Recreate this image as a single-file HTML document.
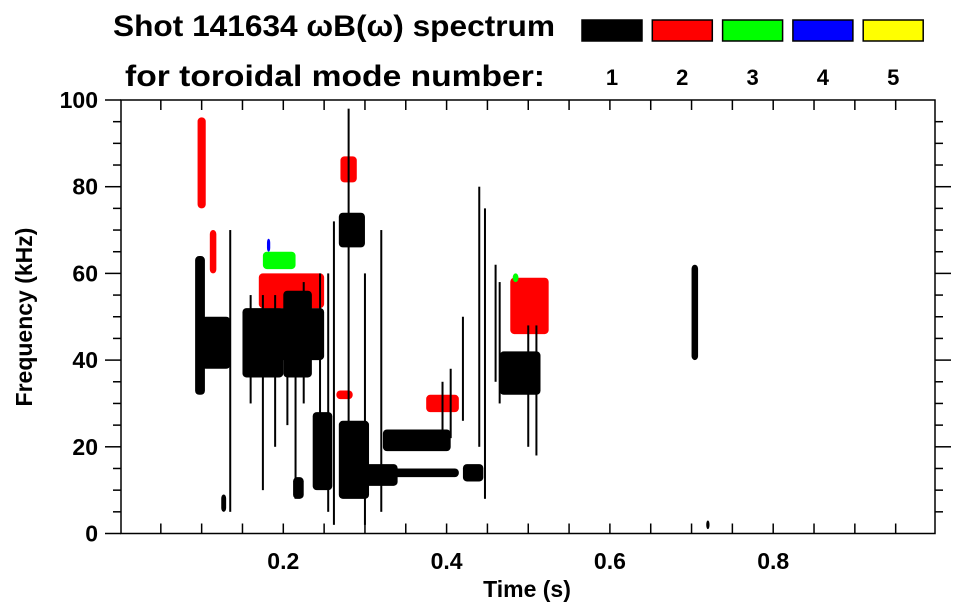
<!DOCTYPE html>
<html><head><meta charset="utf-8"><style>
body{margin:0;background:#fff}
svg{display:block;font-family:"Liberation Sans",sans-serif;font-weight:bold}
</style></head><body>
<svg id="c" width="963" height="615">
<text x="113" y="36" font-size="30" textLength="442" lengthAdjust="spacingAndGlyphs">Shot 141634 ωB(ω) spectrum</text>
<text x="125" y="86" font-size="30" textLength="420" lengthAdjust="spacingAndGlyphs">for toroidal mode number:</text>
<g id="legend"></g>
<g id="marks"></g>
<g id="axes"></g>
<text x="527" y="597" font-size="23" text-anchor="middle">Time (s)</text>
<text transform="translate(32,317) rotate(-90)" font-size="23" text-anchor="middle">Frequency (kHz)</text>
</svg>
<script>
const modeColors=['#000','#f00','#0f0','#00f','#ff0'];
const modeLabels=['1','2','3','4','5'];
const xTicks=[0.2,0.4,0.6,0.8];
const yTicks=[0,20,40,60,80,100];
// blobs: [t0,t1,f0,f1,modeIndex]
const blobT0=[0.092,0.100,0.150,0.170,0.268,0.268,0.310,0.322,0.420,0.465,0.700,0.718,0.212,0.124,0.095,0.110,0.170,0.270,0.265,0.375,0.478,0.175,0.481,0.180,0.236,0.300,0.200];
const blobT1=[0.104,0.135,0.200,0.250,0.300,0.305,0.415,0.405,0.445,0.515,0.708,0.722,0.225,0.130,0.105,0.118,0.250,0.290,0.285,0.415,0.525,0.215,0.488,0.184,0.260,0.340,0.235];
const blobF0=[32,38,36,40,66,8,13,19,12,32,40,1,8,5,75,60,52,81,31,28,46,61,58,65,10,11,36];
const blobF1=[64,50,52,52,74,26,15,24,16,42,62,3,13,9,96,70,60,87,33,32,59,65,60,68,28,16,56];
const blobMode=[0,0,0,0,0,0,0,0,0,0,0,0,0,0,1,1,1,1,1,1,1,2,2,3,0,0,0];
// vertical streaks: [t, f0, f1]
const streakT=[0.135,0.175,0.190,0.215,0.245,0.255,0.262,0.280,0.300,0.320,0.395,0.405,0.420,0.440,0.447,0.460,0.465,0.500,0.510,0.225,0.205,0.160];
const streakF0=[5,10,20,8,15,5,2,20,2,5,20,22,26,20,8,35,30,20,18,30,25,30];
const streakF1=[70,55,55,50,60,60,72,98,60,70,35,38,50,80,75,62,58,48,48,58,55,55];
const X0=120,XS=816.5,Y0=533.5,YS=4.335;
const x=t=>X0+t*XS, y=f=>Y0-f*YS;
const NS='http://www.w3.org/2000/svg';
function mk(tag,attrs,parent){const e=document.createElementNS(NS,tag);for(const k in attrs)e.setAttribute(k,attrs[k]);parent.appendChild(e);return e;}
const marks=document.getElementById('marks');
for(let i=0;i<blobT0.length;i++){
  const e=mk('rect',{x:x(blobT0[i]),y:y(blobF1[i]),width:x(blobT1[i])-x(blobT0[i]),height:y(blobF0[i])-y(blobF1[i]),fill:modeColors[blobMode[i]],rx:4},marks);
  
  
}
for(let i=0;i<streakT.length;i++){
  const e=mk('rect',{x:x(streakT[i])-1,y:y(streakF1[i]),width:2,height:y(streakF0[i])-y(streakF1[i]),fill:'#000'},marks);
  
  
}
const lg=document.getElementById('legend');
for(let i=0;i<5;i++){
  const bx=582+i*70.3;
  const r=mk('rect',{x:bx,y:20,width:60,height:21,fill:modeColors[i],stroke:'#000','stroke-width':1.5},lg);
  
  
  const t=mk('text',{x:bx+30,y:85,'font-size':22,'text-anchor':'middle'},lg);t.textContent=modeLabels[i];
  
  
}
const ax=document.getElementById('axes');
const L=121,R=935,T=100,B=533.5;
mk('rect',{x:L,y:T,width:R-L,height:B-T,fill:'none',stroke:'#000','stroke-width':1.5},ax);
mk('line',{x1:105,y1:B,x2:L,y2:B,stroke:'#000','stroke-width':1.5},ax);
mk('line',{x1:105,y1:T,x2:L,y2:T,stroke:'#000','stroke-width':1.5},ax);
for(let t=0.05;t<1;t+=0.05){const px=x(t);
  mk('line',{x1:px,y1:B,x2:px,y2:B-10,stroke:'#000','stroke-width':1.5},ax);
  mk('line',{x1:px,y1:T,x2:px,y2:T+10,stroke:'#000','stroke-width':1.5},ax);}
for(let f=5;f<100;f+=5){const py=y(f);const maj=f%20===0;
  mk('line',{x1:L-(maj?16:8),y1:py,x2:L,y2:py,stroke:'#000','stroke-width':1.5},ax);
  mk('line',{x1:R,y1:py,x2:R+(maj?16:8),y2:py,stroke:'#000','stroke-width':1.5},ax);}
xTicks.forEach(v=>{const t=mk('text',{x:x(v),y:569,'font-size':23,'text-anchor':'middle'},ax);t.textContent=v.toFixed(1);
  
  });
yTicks.forEach(v=>{const t=mk('text',{x:98,y:y(v)+8,'font-size':23,'text-anchor':'end'},ax);t.textContent=v;
  
  });
</script>
</body></html>
